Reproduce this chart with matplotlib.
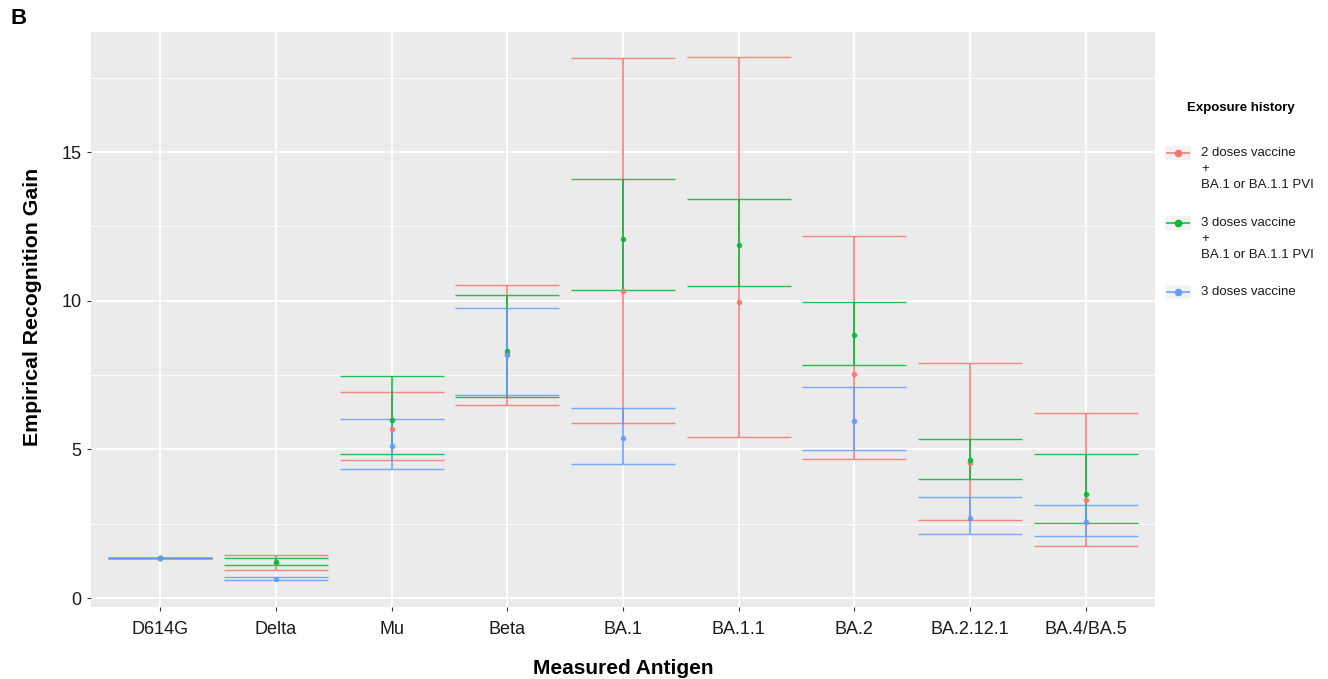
import numpy as np
import matplotlib
matplotlib.use('Agg')
import matplotlib.pyplot as plt
from matplotlib.lines import Line2D
from matplotlib.patches import Rectangle

plt.rcParams['font.family'] = ['Liberation Sans', 'DejaVu Sans']

# Measured antigens on the x axis
antigens = ['D614G', 'Delta', 'Mu', 'Beta', 'BA.1', 'BA.1.1', 'BA.2', 'BA.2.12.1', 'BA.4/BA.5']

# Exposure groups
groups = ['2 doses vaccine\n+\nBA.1 or BA.1.1 PVI',
          '3 doses vaccine\n+\nBA.1 or BA.1.1 PVI',
          '3 doses vaccine']
colors = ['#F8766D', '#00BA38', '#619CFF']

nan = np.nan
# 2 doses vaccine + BA.1 or BA.1.1 PVI
red_mid = [1.35, 1.19, 5.68, 8.20, 10.33, 9.95, 7.55, 4.56, 3.29]
red_lo = [1.35, 0.93, 4.66, 6.50, 5.88, 5.43, 4.69, 2.61, 1.74]
red_hi = [1.35, 1.45, 6.94, 10.54, 18.15, 18.19, 12.18, 7.90, 6.22]
# 3 doses vaccine + BA.1 or BA.1.1 PVI
green_mid = [1.35, 1.22, 5.99, 8.30, 12.08, 11.86, 8.84, 4.63, 3.50]
green_lo = [1.35, 1.12, 4.83, 6.75, 10.36, 10.49, 7.84, 3.99, 2.52]
green_hi = [1.35, 1.36, 7.46, 10.19, 14.08, 13.41, 9.96, 5.36, 4.85]
# 3 doses vaccine
blue_mid = [1.35, 0.65, 5.12, 8.16, 5.38, nan, 5.94, 2.70, 2.56]
blue_lo = [1.35, 0.61, 4.34, 6.82, 4.51, nan, 4.98, 2.14, 2.09]
blue_hi = [1.35, 0.70, 6.04, 9.77, 6.38, nan, 7.09, 3.40, 3.12]

series = [(red_mid, red_lo, red_hi), (green_mid, green_lo, green_hi), (blue_mid, blue_lo, blue_hi)]

W, H = 1328, 679
fig = plt.figure(figsize=(W / 100, H / 100), dpi=100)
ax = fig.add_axes([91 / W, 1 - 607 / H, (1155 - 91) / W, (607 - 32) / H])

ax.set_facecolor('#EBEBEB')
for s in ax.spines.values():
    s.set_visible(False)

x = np.arange(len(antigens))
for (mid, lo, hi), col in zip(series, colors):
    mid = np.array(mid)
    lo = np.array(lo)
    hi = np.array(hi)
    ax.errorbar(x, mid, yerr=[mid - lo, hi - mid], fmt='o', color=col, ecolor=col,
                ms=3, elinewidth=1.3, capsize=37.5, capthick=1.0, alpha=0.85, zorder=3)

ax.set_xlim(-0.6, 8.6)
ax.set_ylim(-0.3, 19.04)
ax.set_xticks(x)
ax.set_xticklabels(antigens)
ax.set_yticks([0, 5, 10, 15])
ax.set_yticks([2.5, 7.5, 12.5, 17.5], minor=True)
ax.grid(True, which='major', color='white', linewidth=1.3, zorder=0)
ax.grid(True, which='minor', axis='y', color='white', linewidth=0.6, zorder=0)
ax.set_axisbelow(True)
ax.tick_params(axis='both', which='major', length=3, width=0.8, color='#333333',
               labelsize=13, labelcolor='#1A1A1A', pad=4)
ax.tick_params(axis='x', which='major', pad=7)
ax.tick_params(axis='y', which='minor', length=0)

ax.set_xlabel('Measured Antigen', fontsize=15, fontweight='bold', labelpad=15)
ax.set_ylabel('Empirical Recognition Gain', fontsize=15.3, fontweight='bold')
ax.yaxis.set_label_coords(-0.046, 0.522)

fig.text(10 / W, 1 - 19 / H, 'B', fontsize=16, fontweight='bold', va='center', ha='left')

# legend, drawn by hand to match the layout
fig.text(1241 / W, 1 - 108 / H, 'Exposure history', fontsize=9.5, fontweight='bold',
         ha='center', va='center')
key_y = [153, 223, 292]
for label, col, ky in zip(groups, colors, key_y):
    fig.add_artist(Rectangle((1165 / W, 1 - (ky + 7) / H), 26 / W, 14 / H,
                             transform=fig.transFigure, facecolor='#F2F2F2', edgecolor='none'))
    fig.add_artist(Line2D([1167 / W, 1189 / W], [1 - ky / H, 1 - ky / H], color=col,
                          lw=1.3, alpha=0.85, transform=fig.transFigure))
    fig.add_artist(Line2D([1178 / W], [1 - ky / H], color=col, marker='o', ms=4.5,
                          lw=0, transform=fig.transFigure))
    for i, line in enumerate(label.split('\n')):
        fig.text(1201 / W, 1 - (ky + 16 * i) / H, line, fontsize=9.5, ha='left', va='center',
                 color='#1A1A1A')

fig.savefig('out.png', dpi=100)
